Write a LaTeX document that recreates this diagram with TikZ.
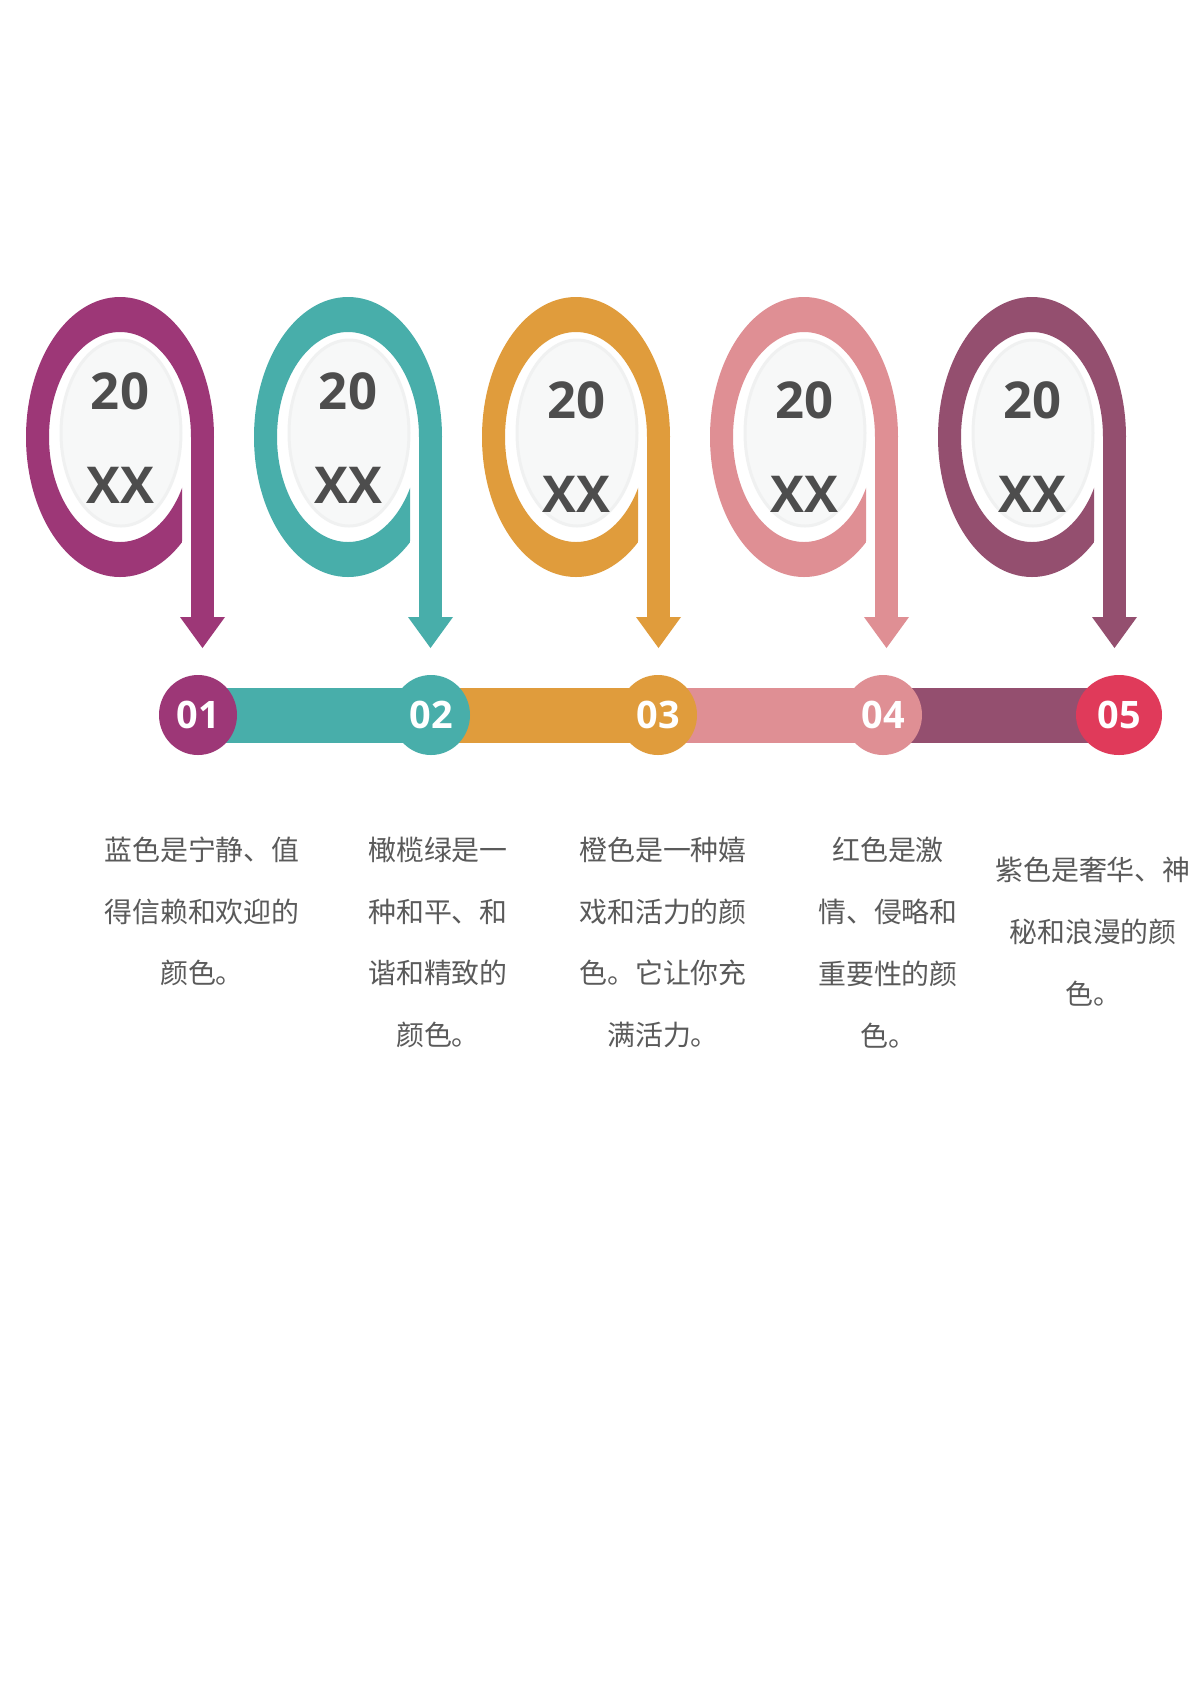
\documentclass[tikz,border=0pt]{standalone}
\usepackage{fontspec}
\setmainfont{Open Sans}
\newfontfamily\cjk{Noto Sans CJK SC}
\usetikzlibrary{shapes.geometric,positioning}

\definecolor{cA}{HTML}{9D3777}
\definecolor{cB}{HTML}{48AEAA}
\definecolor{cC}{HTML}{E09C3C}
\definecolor{cD}{HTML}{DF8F94}
\definecolor{cE}{HTML}{944F6F}
\definecolor{cF}{HTML}{E03A5A}
\definecolor{yeargray}{HTML}{4D4D4D}
\definecolor{descgray}{HTML}{5A5A5A}
\definecolor{discfill}{HTML}{F7F8F8}
\definecolor{discline}{HTML}{F0F1F1}

\tikzset{
  yeartext/.style={font=\fontsize{25.5}{30}\selectfont\bfseries, text=yeargray, inner sep=0pt},
  numbox/.style={ellipse, minimum width=39bp, minimum height=40bp, inner sep=0pt,
    font=\fontsize{19}{22}\selectfont\bfseries, text=white},
  desc/.style={font=\cjk\fontsize{14}{31}\selectfont, text=descgray, align=center, inner sep=0pt},
  disc/.style={fill=discfill, draw=discline, line width=1.5bp},
  bar/.style={line width=27.5bp, draw=#1},
}

\begin{document}
\begin{tikzpicture}[x=0.5bp,y=-0.5bp]
        \useasboundingbox (0,0) rectangle (1191,1684);
        \fill [white] (0,0) rectangle (1191,1684);
        % loops with arrows
        \foreach \col/\dy [count=\i from 0] in {cA/0,cB/0,cC/9,cD/9,cE/9} {
          \pgfmathsetmacro{\cx}{120+228*\i}
          \begin{scope}
            \clip (\cx-100,290) -- (\cx+100,290) -- (\cx+100,437) -- (\cx+62,437)
                  -- (\cx+62,590) -- (\cx-100,590) -- cycle;
            \fill [\col, even odd rule] (\cx,437) ellipse [x radius=94, y radius=140]
                  (\cx,437) ellipse [x radius=71, y radius=105];
          \end{scope}
          \fill [\col] (\cx+71,432) rectangle (\cx+94,618);
          \fill [\col] (\cx+60,617) -- (\cx+105,617) -- (\cx+82.5,648) -- cycle;
          \fill [disc] (\cx+1,433) ellipse [x radius=60, y radius=93];
          \node [yeartext] (yr\i) at (\cx,391+\dy) {20};
          \node [yeartext] (xx\i) at (\cx,485+\dy) {XX};
        }
        % timeline
        \foreach \px [count=\j] in {198,431,658,883,1119}
          \coordinate (p\j) at (\px,715);
        \draw [bar=cB] (p1) -- (p2);
        \draw [bar=cC] (p2) -- (p3);
        \draw [bar=cD] (p3) -- (p4);
        \draw [bar=cE] (p4) -- (p5);
        \node [numbox, fill=cA] (n1) at (p1) {01};
        \node [numbox, fill=cB] (n2) at (p2) {02};
        \node [numbox, fill=cC] (n3) at (p3) {03};
        \node [numbox, fill=cD] (n4) at (p4) {04};
        \node [numbox, fill=cF, minimum width=43bp] (n5) at (p5) {05};
        % texts
        \node [desc] (d1) at (202,911.5) {蓝色是宁静、值\\得信赖和欢迎的\\颜色。};
        \node [desc] (d2) at (438,942.5) {橄榄绿是一\\种和平、和\\谐和精致的\\颜色。};
        \node [desc] (d3) at (663,942.5) {橙色是一种嬉\\戏和活力的颜\\色。它让你充\\满活力。};
        \node [desc] (d4) at (888,942.5) {红色是激\\情、侵略和\\重要性的颜\\色。};
        \node [desc] (d5) at (1093,931.5) {紫色是奢华、神\\秘和浪漫的颜\\色。};
\end{tikzpicture}
\end{document}
